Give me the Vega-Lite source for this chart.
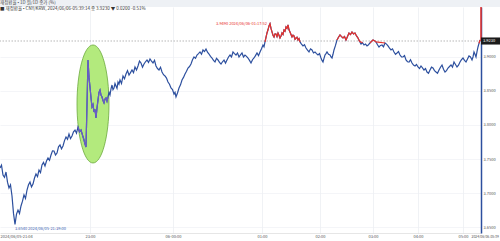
{
  "$schema": "https://vega.github.io/schema/vega-lite/v6.json",
  "width": 481,
  "height": 226,
  "autosize": {"type": "none"},
  "padding": {"left": 0, "top": 7, "right": 19, "bottom": 8},
  "background": "white",
  "config": {"font": "Noto Sans CJK KR", "view": {"stroke": null}},
  "title": {
    "text": "재정환율 • 1D        원/1D 종가 (%)",
    "subtitle": "■ 재정환율 • CNY/KRW, 2024/06/06-05:39:14 종 3.9230 ▼ 0.0200 -0.51%",
    "anchor": "start",
    "frame": "group",
    "fontSize": 4.5,
    "subtitleFontSize": 4.5,
    "fontWeight": "normal",
    "color": "#444444",
    "subtitleColor": "#333333",
    "offset": -11,
    "subtitlePadding": 1.5
  },
  "datasets": {
    "px": [
      {"n":0,"v":3.7368,"r":0},{"n":1.5,"v":3.741,"r":0},{"n":3,"v":3.7265,"r":0},{"n":4.5,"v":3.723,"r":0},{"n":6,"v":3.7309,"r":0},{"n":7.5,"v":3.716,"r":0},{"n":9,"v":3.7074,"r":0},{"n":10.5,"v":3.712,"r":0},{"n":12,"v":3.6956,"r":0},{"n":13.5,"v":3.67,"r":0},{"n":15,"v":3.654,"r":0},{"n":16.5,"v":3.669,"r":0},{"n":18,"v":3.675,"r":0},{"n":19.5,"v":3.67,"r":0},{"n":21,"v":3.6809,"r":0},{"n":22.5,"v":3.688,"r":0},{"n":24,"v":3.6971,"r":0},{"n":25.5,"v":3.692,"r":0},{"n":27,"v":3.7044,"r":0},{"n":28.5,"v":3.712,"r":0},{"n":30,"v":3.7162,"r":0},{"n":31.5,"v":3.709,"r":0},{"n":33,"v":3.7132,"r":0},{"n":34.5,"v":3.722,"r":0},{"n":36,"v":3.7279,"r":0},{"n":37.5,"v":3.724,"r":0},{"n":39,"v":3.7338,"r":0},{"n":40.5,"v":3.73,"r":0},{"n":42,"v":3.7412,"r":0},{"n":43.5,"v":3.745,"r":0},{"n":45,"v":3.7397,"r":0},{"n":46.5,"v":3.747,"r":0},{"n":48,"v":3.7515,"r":0},{"n":49.5,"v":3.748,"r":0},{"n":51,"v":3.7559,"r":0},{"n":52.5,"v":3.762,"r":0},{"n":54,"v":3.7618,"r":0},{"n":55.5,"v":3.756,"r":0},{"n":57,"v":3.7588,"r":0},{"n":58.5,"v":3.768,"r":0},{"n":60,"v":3.7706,"r":0},{"n":61.5,"v":3.765,"r":0},{"n":63,"v":3.7691,"r":0},{"n":64.5,"v":3.777,"r":0},{"n":66,"v":3.7824,"r":0},{"n":67.5,"v":3.779,"r":0},{"n":69,"v":3.7868,"r":0},{"n":70.5,"v":3.78,"r":0},{"n":72,"v":3.7838,"r":0},{"n":73.5,"v":3.79,"r":0},{"n":75,"v":3.7926,"r":0},{"n":76.5,"v":3.788,"r":0},{"n":78,"v":3.7971,"r":0},{"n":79.5,"v":3.79,"r":0},{"n":81,"v":3.7926,"r":0},{"n":82.5,"v":3.785,"r":0},{"n":84,"v":3.7779,"r":0},{"n":85,"v":3.772,"r":0},{"n":86,"v":3.7676,"r":0},{"n":87,"v":3.83,"r":0},{"n":88,"v":3.8956,"r":0},{"n":89,"v":3.87,"r":0},{"n":90,"v":3.8559,"r":0},{"n":91,"v":3.84,"r":0},{"n":92,"v":3.8265,"r":0},{"n":93,"v":3.83,"r":0},{"n":94,"v":3.8191,"r":0},{"n":95,"v":3.823,"r":0},{"n":96,"v":3.8103,"r":0},{"n":97,"v":3.825,"r":0},{"n":98,"v":3.8368,"r":0},{"n":99,"v":3.848,"r":0},{"n":100,"v":3.8515,"r":0},{"n":101,"v":3.844,"r":0},{"n":102,"v":3.8412,"r":0},{"n":103,"v":3.836,"r":0},{"n":104,"v":3.8324,"r":0},{"n":105,"v":3.838,"r":0},{"n":106,"v":3.8397,"r":0},{"n":107,"v":3.835,"r":0},{"n":108,"v":3.8412,"r":0},{"n":109,"v":3.848,"r":0},{"n":110,"v":3.8441,"r":0},{"n":111,"v":3.853,"r":0},{"n":112,"v":3.8588,"r":0},{"n":113,"v":3.852,"r":0},{"n":114,"v":3.8544,"r":0},{"n":115,"v":3.861,"r":0},{"n":116,"v":3.8574,"r":0},{"n":117,"v":3.854,"r":0},{"n":118,"v":3.8632,"r":0},{"n":119,"v":3.86,"r":0},{"n":120,"v":3.8662,"r":0},{"n":121.5,"v":3.861,"r":0},{"n":123,"v":3.8721,"r":0},{"n":124.5,"v":3.868,"r":0},{"n":126,"v":3.875,"r":0},{"n":127.5,"v":3.88,"r":0},{"n":129,"v":3.8735,"r":0},{"n":130.5,"v":3.877,"r":0},{"n":132,"v":3.8809,"r":0},{"n":133.5,"v":3.877,"r":0},{"n":135,"v":3.8853,"r":0},{"n":136.5,"v":3.881,"r":0},{"n":138,"v":3.8868,"r":0},{"n":139.5,"v":3.894,"r":0},{"n":141,"v":3.8912,"r":0},{"n":142.5,"v":3.885,"r":0},{"n":144,"v":3.8897,"r":0},{"n":145.5,"v":3.893,"r":0},{"n":147,"v":3.8956,"r":0},{"n":148.5,"v":3.892,"r":0},{"n":150,"v":3.8971,"r":0},{"n":151.5,"v":3.894,"r":0},{"n":153,"v":3.8912,"r":0},{"n":154.5,"v":3.895,"r":0},{"n":156,"v":3.8868,"r":0},{"n":157.5,"v":3.883,"r":0},{"n":159,"v":3.8809,"r":0},{"n":160.5,"v":3.885,"r":0},{"n":162,"v":3.8779,"r":0},{"n":163.5,"v":3.874,"r":0},{"n":165,"v":3.8721,"r":0},{"n":166.5,"v":3.869,"r":0},{"n":168,"v":3.8632,"r":0},{"n":169.5,"v":3.86,"r":0},{"n":171,"v":3.8544,"r":0},{"n":172.5,"v":3.852,"r":0},{"n":174,"v":3.8456,"r":0},{"n":175,"v":3.848,"r":0},{"n":176,"v":3.8412,"r":0},{"n":177.5,"v":3.847,"r":0},{"n":179,"v":3.8544,"r":0},{"n":180.5,"v":3.859,"r":0},{"n":182,"v":3.8662,"r":0},{"n":183.5,"v":3.87,"r":0},{"n":185,"v":3.875,"r":0},{"n":186.5,"v":3.879,"r":0},{"n":188,"v":3.8838,"r":0},{"n":189.5,"v":3.886,"r":0},{"n":191,"v":3.8897,"r":0},{"n":192.5,"v":3.896,"r":0},{"n":194,"v":3.9,"r":0},{"n":195.5,"v":3.898,"r":0},{"n":197,"v":3.9029,"r":0},{"n":198.5,"v":3.905,"r":0},{"n":200,"v":3.9074,"r":0},{"n":201.5,"v":3.904,"r":0},{"n":203,"v":3.9103,"r":0},{"n":204.5,"v":3.908,"r":0},{"n":206,"v":3.9118,"r":0},{"n":207.5,"v":3.907,"r":0},{"n":209,"v":3.9044,"r":0},{"n":210.5,"v":3.901,"r":0},{"n":212,"v":3.8985,"r":0},{"n":213.5,"v":3.895,"r":0},{"n":215,"v":3.8926,"r":0},{"n":216.5,"v":3.898,"r":0},{"n":218,"v":3.8956,"r":0},{"n":219.5,"v":3.892,"r":0},{"n":221,"v":3.8897,"r":0},{"n":222.5,"v":3.893,"r":0},{"n":224,"v":3.8956,"r":0},{"n":225.5,"v":3.891,"r":0},{"n":227,"v":3.8956,"r":0},{"n":228.5,"v":3.9,"r":0},{"n":230,"v":3.9029,"r":0},{"n":231.5,"v":3.9,"r":0},{"n":233,"v":3.9074,"r":0},{"n":234.5,"v":3.905,"r":0},{"n":236,"v":3.9029,"r":0},{"n":237.5,"v":3.906,"r":0},{"n":239,"v":3.9,"r":0},{"n":240.5,"v":3.903,"r":0},{"n":242,"v":3.9059,"r":0},{"n":243.5,"v":3.9,"r":0},{"n":245,"v":3.9029,"r":0},{"n":246.5,"v":3.901,"r":0},{"n":248,"v":3.8985,"r":0},{"n":249.5,"v":3.895,"r":0},{"n":251,"v":3.8912,"r":0},{"n":252.5,"v":3.896,"r":0},{"n":254,"v":3.8985,"r":0},{"n":255.5,"v":3.902,"r":0},{"n":257,"v":3.9059,"r":0},{"n":258.5,"v":3.902,"r":0},{"n":260,"v":3.9074,"r":0},{"n":261.5,"v":3.912,"r":0},{"n":263,"v":3.9176,"r":0},{"n":264,"v":3.915,"r":0},
      {"n":265,"v":3.9221,"r":1},{"n":266,"v":3.929,"r":1},{"n":267,"v":3.9353,"r":1},{"n":268,"v":3.94,"r":1},{"n":269,"v":3.9456,"r":1},{"n":270,"v":3.949,"r":1},{"n":271,"v":3.942,"r":1},{"n":272,"v":3.9368,"r":1},{"n":273,"v":3.932,"r":1},{"n":274,"v":3.9294,"r":1},{"n":275,"v":3.934,"r":1},{"n":276,"v":3.9338,"r":1},{"n":277,"v":3.93,"r":1},{"n":278,"v":3.9353,"r":1},{"n":279,"v":3.932,"r":1},{"n":280,"v":3.9279,"r":1},{"n":281,"v":3.931,"r":1},{"n":282,"v":3.9353,"r":1},{"n":283,"v":3.933,"r":1},{"n":284,"v":3.9397,"r":1},{"n":285,"v":3.938,"r":1},{"n":286,"v":3.9441,"r":1},{"n":287,"v":3.942,"r":1},{"n":288,"v":3.9471,"r":1},{"n":289,"v":3.94,"r":1},{"n":290,"v":3.9368,"r":1},{"n":291,"v":3.933,"r":1},{"n":292,"v":3.9294,"r":1},{"n":293,"v":3.932,"r":1},{"n":294,"v":3.9309,"r":1},{"n":295,"v":3.926,"r":1},{"n":296,"v":3.9279,"r":1},{"n":297,"v":3.929,"r":1},{"n":298,"v":3.925,"r":1},{"n":299,"v":3.927,"r":1},{"n":300,"v":3.9221,"r":1},
      {"n":301.5,"v":3.919,"r":2},{"n":303,"v":3.9162,"r":2},{"n":304.5,"v":3.918,"r":2},{"n":306,"v":3.9132,"r":2},{"n":307.5,"v":3.91,"r":2},{"n":309,"v":3.9074,"r":2},{"n":310.5,"v":3.912,"r":2},{"n":312,"v":3.9103,"r":2},{"n":313.5,"v":3.906,"r":2},{"n":315,"v":3.9074,"r":2},{"n":316.5,"v":3.905,"r":2},{"n":318,"v":3.9029,"r":2},{"n":319.5,"v":3.905,"r":2},{"n":321,"v":3.8985,"r":2},{"n":322,"v":3.895,"r":2},{"n":323,"v":3.8926,"r":2},{"n":324,"v":3.898,"r":2},{"n":325,"v":3.9029,"r":2},{"n":326,"v":3.905,"r":2},{"n":327,"v":3.9074,"r":2},{"n":328.5,"v":3.904,"r":2},{"n":330,"v":3.9029,"r":2},{"n":331,"v":3.9,"r":2},{"n":332,"v":3.8985,"r":2},{"n":333,"v":3.904,"r":2},{"n":334,"v":3.9103,"r":2},{"n":335.5,"v":3.917,"r":2},{"n":337,"v":3.925,"r":2},{"n":338.5,"v":3.929,"r":2},{"n":340,"v":3.9324,"r":2},{"n":341.5,"v":3.93,"r":2},{"n":343,"v":3.9279,"r":2},{"n":344.5,"v":3.93,"r":2},{"n":346,"v":3.925,"r":2},{"n":347.5,"v":3.93,"r":2},{"n":349,"v":3.9353,"r":2},{"n":350.5,"v":3.933,"r":2},{"n":352,"v":3.9368,"r":2},{"n":353.5,"v":3.934,"r":2},{"n":355,"v":3.9353,"r":2},{"n":356.5,"v":3.931,"r":2},{"n":358,"v":3.9279,"r":2},{"n":359.5,"v":3.923,"r":2},{"n":361,"v":3.9191,"r":2},{"n":362.5,"v":3.921,"r":2},{"n":364,"v":3.9176,"r":2},{"n":365.5,"v":3.919,"r":2},{"n":367,"v":3.9162,"r":2},{"n":368.5,"v":3.918,"r":2},
      {"n":370,"v":3.9206,"r":3},{"n":371.5,"v":3.923,"r":3},{"n":373,"v":3.925,"r":3},{"n":374.5,"v":3.924,"r":3},{"n":376,"v":3.9221,"r":3},{"n":377.5,"v":3.918,"r":3},{"n":379,"v":3.9147,"r":3},{"n":380.5,"v":3.917,"r":3},{"n":382,"v":3.9176,"r":3},{"n":383.5,"v":3.915,"r":3},{"n":385,"v":3.9206,"r":3},{"n":386.5,"v":3.919,"r":3},{"n":388,"v":3.9162,"r":3},{"n":389.5,"v":3.913,"r":3},{"n":391,"v":3.9103,"r":3},{"n":392.5,"v":3.912,"r":3},{"n":394,"v":3.9074,"r":3},{"n":395.5,"v":3.904,"r":3},{"n":397,"v":3.9059,"r":3},{"n":398.5,"v":3.908,"r":3},{"n":400,"v":3.9029,"r":3},{"n":401.5,"v":3.9,"r":3},{"n":403,"v":3.9,"r":3},{"n":404.5,"v":3.902,"r":3},{"n":406,"v":3.8956,"r":3},{"n":407.5,"v":3.893,"r":3},{"n":409,"v":3.8926,"r":3},{"n":410.5,"v":3.896,"r":3},{"n":412,"v":3.8912,"r":3},{"n":413.5,"v":3.888,"r":3},{"n":415,"v":3.8868,"r":3},{"n":416.5,"v":3.889,"r":3},{"n":418,"v":3.8853,"r":3},{"n":419.5,"v":3.883,"r":3},{"n":421,"v":3.8868,"r":3},{"n":422.5,"v":3.884,"r":3},{"n":424,"v":3.8809,"r":3},{"n":425.5,"v":3.883,"r":3},{"n":427,"v":3.8779,"r":3},{"n":428.5,"v":3.876,"r":3},{"n":430,"v":3.8809,"r":3},{"n":431.5,"v":3.885,"r":3},{"n":433,"v":3.8838,"r":3},{"n":434.5,"v":3.88,"r":3},{"n":436,"v":3.8779,"r":3},{"n":437.5,"v":3.876,"r":3},{"n":439,"v":3.8809,"r":3},{"n":440.5,"v":3.885,"r":3},{"n":442,"v":3.8882,"r":3},{"n":443.5,"v":3.882,"r":3},{"n":445,"v":3.8779,"r":3},{"n":446.5,"v":3.88,"r":3},{"n":448,"v":3.8838,"r":3},{"n":449.5,"v":3.886,"r":3},{"n":451,"v":3.8882,"r":3},{"n":452.5,"v":3.885,"r":3},{"n":454,"v":3.8926,"r":3},{"n":455.5,"v":3.889,"r":3},{"n":457,"v":3.8853,"r":3},{"n":458.5,"v":3.888,"r":3},{"n":460,"v":3.8926,"r":3},{"n":461.5,"v":3.896,"r":3},{"n":463,"v":3.8985,"r":3},{"n":464.5,"v":3.895,"r":3},{"n":466,"v":3.8926,"r":3},{"n":467.5,"v":3.897,"r":3},{"n":469,"v":3.9015,"r":3},{"n":470.5,"v":3.9,"r":3},{"n":472,"v":3.8956,"r":3},{"n":473,"v":3.9,"r":3},{"n":474,"v":3.9074,"r":3},{"n":475,"v":3.904,"r":3},{"n":476,"v":3.9,"r":3},{"n":477,"v":3.908,"r":3},
      {"n":478,"v":3.9147,"r":4},{"n":479,"v":3.92,"r":4},{"n":480,"v":3.925,"r":4}
    ]
  },
  "layer": [
    {
      "data": {"values": [{"n": 93, "v": 3.8309}]},
      "mark": {
        "type": "point",
        "shape": "M0,-1C0.1497,-1,0.271,-0.5523,0.271,0C0.271,0.5523,0.1497,1,0,1C-0.1497,1,-0.271,0.5523,-0.271,0C-0.271,-0.5523,-0.1497,-1,0,-1Z",
        "size": 13924,
        "filled": true,
        "fill": "#b3ea7d",
        "stroke": "#6caa3e",
        "strokeWidth": 0.8,
        "opacity": 1
      },
      "encoding": {
        "x": {
          "field": "n", "type": "quantitative",
          "scale": {"domain": [0, 481], "nice": false, "zero": false},
          "axis": {
            "title": null,
            "values": [0, 90, 173, 262, 320, 373, 418, 463, 471],
            "labelExpr": "datum.value == 0 ? '2024/06/05-21:04' : datum.value == 90 ? '23:00' : datum.value == 173 ? '06-00:00' : datum.value == 262 ? '01:00' : datum.value == 320 ? '02:00' : datum.value == 373 ? '03:00' : datum.value == 418 ? '04:00' : datum.value == 463 ? '05:00' : '2024/06/06-05:39'",
            "labelAlign": {"condition": {"test": "datum.value == 0 || datum.value == 471", "value": "left"}, "value": "center"},
            "labelFontSize": {"condition": {"test": "datum.value == 471", "value": 3.4}, "value": 4},
            "labelColor": "#555555",
            "labelPadding": 1,
            "ticks": false,
            "domain": true,
            "domainColor": "#cccccc",
            "domainWidth": 0.5,
            "grid": true,
            "gridColor": "#e6e9ee",
            "gridWidth": 0.6,
            "gridOpacity": {"condition": {"test": "datum.value == 0 || datum.value == 471", "value": 0}, "value": 1},
            "labelOverlap": false
          }
        },
        "y": {
          "field": "v", "type": "quantitative",
          "scale": {"domain": [3.6412, 3.9735], "nice": false, "zero": false},
          "axis": {
            "title": null,
            "orient": "right",
            "values": [3.65, 3.675, 3.7, 3.725, 3.75, 3.775, 3.8, 3.825, 3.85, 3.875, 3.9, 3.95],
            "format": ".4f",
            "labelFontSize": 4,
            "labelColor": "#555555",
            "labelPadding": 2,
            "ticks": false,
            "domain": true,
            "domainColor": "#2c4f9e",
            "domainWidth": 1.5,
            "grid": true,
            "gridColor": "#eceff3",
            "gridWidth": 0.6,
            "labelOverlap": false
          }
        }
      }
    },
    {
      "data": {"values": [{}]},
      "mark": {"type": "rect", "color": "#eef1f5", "clip": false},
      "encoding": {
        "x": {"datum": 0, "type": "quantitative"},
        "x2": {"datum": 500},
        "y": {"datum": 3.9735, "type": "quantitative"},
        "y2": {"datum": 3.9838}
      }
    },
    {
      "data": {"values": [{}]},
      "mark": {"type": "rule", "color": "#9a9a9a", "strokeDash": [1.5, 1.5], "strokeWidth": 0.7},
      "encoding": {"y": {"datum": 3.9235, "type": "quantitative"}}
    },
    {
      "data": {"name": "px"},
      "mark": {"type": "line", "color": "#2c4f9e", "strokeWidth": 1.2},
      "encoding": {
        "x": {"field": "n", "type": "quantitative"},
        "y": {"field": "v", "type": "quantitative"}
      }
    },
    {
      "data": {"name": "px"},
      "transform": [{"filter": "datum.n >= 78 && datum.n <= 108"}],
      "mark": {"type": "line", "color": "#6a5cc6", "strokeWidth": 1.2},
      "encoding": {
        "x": {"field": "n", "type": "quantitative"},
        "y": {"field": "v", "type": "quantitative"}
      }
    },
    {
      "data": {"name": "px"},
      "transform": [{"filter": "datum.v >= 3.92"}],
      "mark": {"type": "line", "color": "#e8312a", "strokeWidth": 1.2},
      "encoding": {
        "x": {"field": "n", "type": "quantitative"},
        "y": {"field": "v", "type": "quantitative"},
        "detail": {"field": "r", "type": "nominal"}
      }
    },
    {
      "data": {"values": [{}]},
      "mark": {"type": "rule", "color": "#e8312a", "strokeWidth": 1.5, "clip": false},
      "encoding": {
        "x": {"datum": 481, "type": "quantitative"},
        "y": {"datum": 3.9235, "type": "quantitative"},
        "y2": {"datum": 3.9735}
      }
    },
    {
      "data": {"values": [{}]},
      "mark": {"type": "rect", "color": "#1b1b1b", "clip": false},
      "encoding": {
        "x": {"datum": 481, "type": "quantitative"},
        "x2": {"datum": 500},
        "y": {"datum": 3.9287, "type": "quantitative"},
        "y2": {"datum": 3.9183}
      }
    },
    {
      "data": {"values": [{}]},
      "mark": {"type": "text", "color": "#ffffff", "fontSize": 4, "align": "left", "baseline": "middle", "dx": 2, "clip": false},
      "encoding": {
        "x": {"datum": 481, "type": "quantitative"},
        "y": {"datum": 3.9235, "type": "quantitative"},
        "text": {"value": "3.9230"}
      }
    },
    {
      "data": {"values": [
        {"n": 270, "v": 3.949, "t": "3.9490 2024/06/06-01:17:52", "k": "hi"},
        {"n": 15, "v": 3.654, "t": "3.6540 2024/06/05-21:39:00", "k": "lo"}
      ]},
      "transform": [{"filter": "datum.k == 'hi'"}],
      "mark": {"type": "text", "color": "#e8312a", "fontSize": 4, "align": "right", "baseline": "middle", "dx": -3},
      "encoding": {
        "x": {"field": "n", "type": "quantitative"},
        "y": {"field": "v", "type": "quantitative"},
        "text": {"field": "t"}
      }
    },
    {
      "data": {"values": [
        {"n": 270, "v": 3.949, "t": "3.9490 2024/06/06-01:17:52", "k": "hi"},
        {"n": 15, "v": 3.654, "t": "3.6540 2024/06/05-21:39:00", "k": "lo"}
      ]},
      "transform": [{"filter": "datum.k == 'lo'"}],
      "mark": {"type": "text", "color": "#3a5cae", "fontSize": 4, "align": "left", "baseline": "middle", "dx": 0, "dy": 5},
      "encoding": {
        "x": {"field": "n", "type": "quantitative"},
        "y": {"field": "v", "type": "quantitative"},
        "text": {"field": "t"}
      }
    }
  ]
}
